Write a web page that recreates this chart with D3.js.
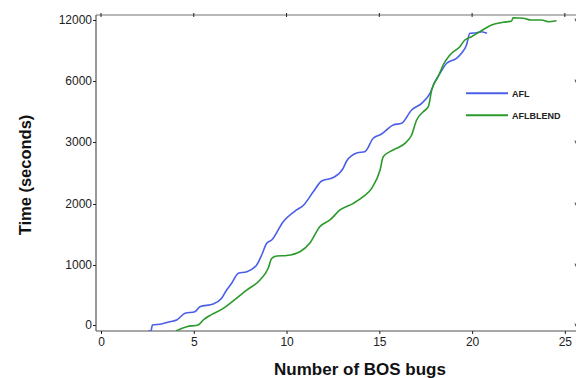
<!DOCTYPE html>
<html>
<head>
<meta charset="utf-8">
<script src="https://cdn.jsdelivr.net/npm/d3@7"></script>
<style>
  html, body { margin: 0; padding: 0; background: #fff; }
  svg { display: block; font-family: "Liberation Sans", Arial, sans-serif; }
</style>
</head>
<body>
<svg id="chart" width="576" height="378"></svg>
<script>
// ---- data ----
const xTicks = [0, 5, 10, 15, 20, 25];
const yTicks = [0, 1000, 2000, 3000, 6000, 12000];

const aflBugs = [2.55, 2.69, 2.77, 3.27, 3.72, 4.08, 4.53, 5.06, 5.33, 6.05, 6.5, 6.77, 7.04, 7.4, 7.85, 8.39, 8.66, 8.93, 9.2, 9.82, 10.54, 10.9, 11.44, 11.89, 12.52, 13.05, 13.24, 13.82, 14.22, 14.67, 15.12, 15.75, 16.2, 16.74, 17.28, 17.73, 18.0, 18.27, 18.63, 19.16, 19.43, 19.7, 19.88, 20.24, 20.51, 20.8];
const aflTime = [-100, -100, 0, 17, 55, 83, 195, 222, 305, 350, 445, 583, 695, 862, 888, 1000, 1164, 1356, 1410, 1710, 1902, 1975, 2198, 2371, 2427, 2576, 2694, 2827, 2844, 3182, 3393, 3836, 3920, 4574, 4903, 5395, 5966, 6757, 7741, 8233, 8725, 9541, 10692, 10751, 10849, 10692];

const blendBugs = [4.04, 4.62, 5.24, 5.51, 6.59, 7.85, 8.57, 9.01, 9.2, 9.47, 10.0, 10.72, 11.25, 11.79, 12.34, 12.88, 13.6, 14.13, 14.59, 15.04, 15.21, 15.57, 15.93, 16.38, 16.74, 17.01, 17.37, 17.64, 17.82, 18.17, 18.44, 18.8, 19.34, 19.61, 19.97, 20.42, 21.05, 21.68, 22.13, 22.21, 22.75, 23.21, 23.74, 24.1, 24.55];
const blendTime = [-100, -28, 0, 83, 278, 583, 750, 945, 1110, 1148, 1156, 1218, 1356, 1628, 1738, 1902, 2011, 2118, 2253, 2548, 2763, 2844, 2898, 2979, 3344, 4082, 4490, 4736, 5557, 6423, 7574, 8557, 9374, 10033, 10357, 10849, 11508, 11774, 11902, 12226, 12167, 12000, 12000, 11833, 11931];

const seriesNames = ["AFL", "AFLBLEND"];
const seriesColors = ["#4a5fe6", "#2a9a2a"];

// ---- layout ----
const svg = d3.select("#chart");
const L = 96, R = 576, T = 15, B = 331;

const x = d3.scaleLinear().domain([-0.27, 25.6]).range([L, R]);
// non-uniform axis: ticks equally spaced
const y = d3.scaleLinear().domain(yTicks).range([325, 265, 204, 142, 81, 20]);

const axisColor = "#8a8a8a";

// top frame line
svg.append("line").attr("x1", L).attr("x2", R).attr("y1", T).attr("y2", T)
  .attr("stroke", "#a0a0a0").attr("stroke-width", 1.5);

// top ticks
svg.append("g").selectAll("line").data(xTicks).join("line")
  .attr("x1", d => x(d)).attr("x2", d => x(d))
  .attr("y1", T - 2).attr("y2", T + 2)
  .attr("stroke", "#222").attr("stroke-width", 1);

// right ticks (edge of the window)
svg.append("g").selectAll("line").data(yTicks).join("line")
  .attr("x1", R - 1).attr("x2", R)
  .attr("y1", d => y(d) - 1.5).attr("y2", d => y(d) + 1.5)
  .attr("stroke", "#444").attr("stroke-width", 1);

// bottom axis
const gx = svg.append("g").attr("transform", `translate(0,${B})`)
  .call(d3.axisBottom(x).tickValues(xTicks).tickSize(3).tickPadding(3).tickFormat(d3.format("d")));
gx.select(".domain").attr("stroke", axisColor).attr("stroke-width", 1.5)
  .attr("d", `M${L},0H${R}`);
gx.selectAll(".tick line").attr("stroke", "#222");
gx.selectAll(".tick text").attr("font-size", 12).attr("fill", "#222")
  .attr("font-family", "Liberation Sans, Arial, sans-serif");

// left axis
const gy = svg.append("g").attr("transform", `translate(${L},0)`)
  .call(d3.axisLeft(y).tickValues(yTicks).tickSize(3).tickPadding(1).tickFormat(d3.format("d")));
gy.select(".domain").attr("stroke", "#777").attr("stroke-width", 1.5)
  .attr("d", `M0,${T}V${B}`);
gy.selectAll(".tick line").attr("stroke", "#222");
gy.selectAll(".tick text").attr("font-size", 12).attr("fill", "#222")
  .attr("font-family", "Liberation Sans, Arial, sans-serif");

// clip
svg.append("clipPath").attr("id", "clip").append("rect")
  .attr("x", L).attr("y", T).attr("width", R - L).attr("height", B - T);

const line = d3.line().x(d => x(d[0])).y(d => y(d[1])).curve(d3.curveMonotoneX);
const series = [
  d3.zip(aflBugs, aflTime),
  d3.zip(blendBugs, blendTime)
];

const plot = svg.append("g").attr("clip-path", "url(#clip)");
plot.selectAll("path.series").data(series).join("path")
  .attr("class", "series")
  .attr("d", line)
  .attr("fill", "none")
  .attr("stroke", (d, i) => seriesColors[i])
  .attr("stroke-width", 1.6)
  .attr("stroke-linejoin", "round");

// legend
const lg = svg.append("g");
seriesNames.forEach((name, i) => {
  const ly = 93.3 + i * 22;
  lg.append("line").attr("x1", 466).attr("x2", 508).attr("y1", ly).attr("y2", ly)
    .attr("stroke", seriesColors[i]).attr("stroke-width", 2);
  lg.append("text").attr("x", 512).attr("y", ly + 3.3).text(name)
    .attr("font-size", 9).attr("font-weight", "bold").attr("fill", "#222");
});

// axis titles
svg.append("text").attr("x", 360).attr("y", 375).attr("text-anchor", "middle")
  .attr("font-size", 17).attr("font-weight", "bold").attr("fill", "#111")
  .text("Number of BOS bugs");
svg.append("text").attr("transform", "translate(31,175) rotate(-90)")
  .attr("text-anchor", "middle")
  .attr("font-size", 16.5).attr("font-weight", "bold").attr("fill", "#111")
  .text("Time (seconds)");
</script>
</body>
</html>
